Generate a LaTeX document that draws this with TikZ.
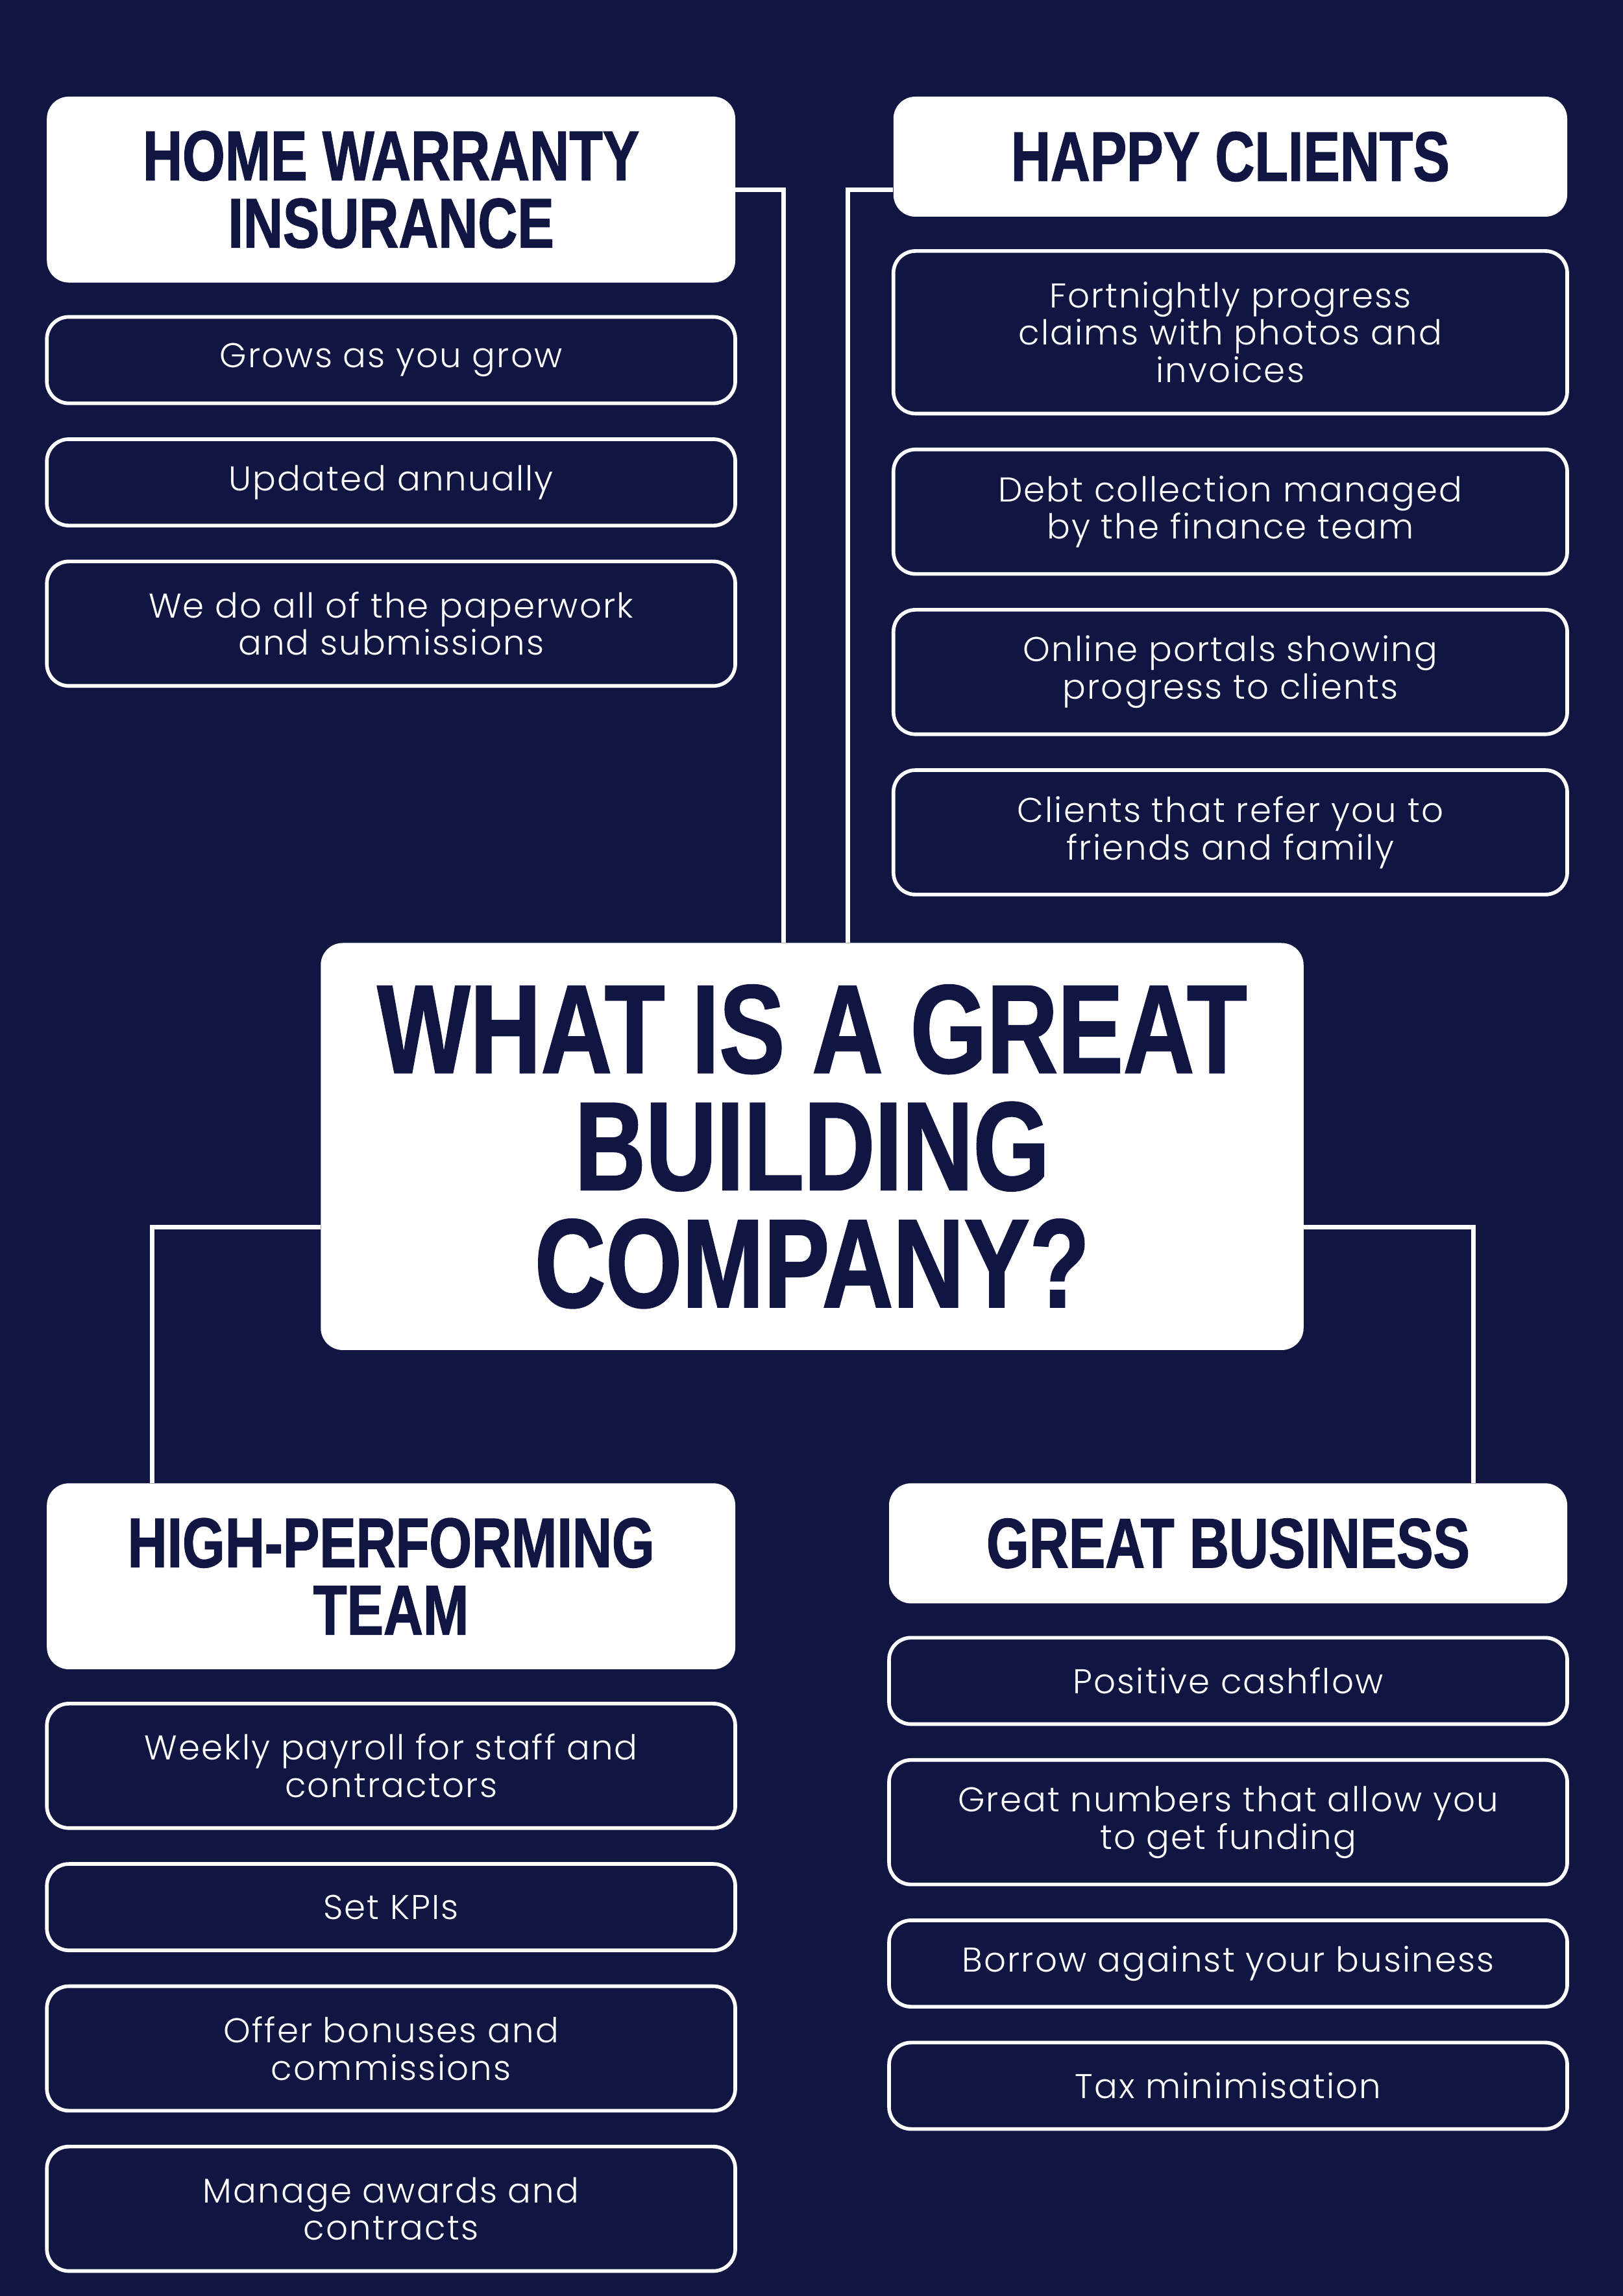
\documentclass[tikz,border=0pt]{standalone}
\usepackage{fontspec}
\usepackage{tikz}
\usetikzlibrary{positioning,calc}
\definecolor{bgnavy}{RGB}{16,22,65}
\newfontfamily\itemfont{Poppins Light}[LetterSpace=4]
\newfontfamily\headfont{Liberation Sans}[FakeStretch=0.78,FakeBold=1.2]

\begin{document}
\begin{tikzpicture}[x=1pt,y=1pt,
  hdbox/.style={fill=white,rounded corners=15pt,align=center,text=bgnavy,inner sep=0pt,
    font=\headfont\bfseries\fontsize{48}{46}\selectfont},
  itembox/.style={draw=white,line width=2.5pt,rounded corners=15pt,align=center,text=white,
    inner sep=0pt,minimum height=59pt,font=\itemfont\fontsize{23.5}{25.5}\selectfont},
  link/.style={draw=white,line width=3pt}
]
  \fill[bgnavy] (0,0) rectangle (1108,1568);
  \useasboundingbox (0,0) rectangle (1108,1568);

  % Central question
  \node[hdbox,minimum width=671pt,minimum height=278pt,font=\headfont\bfseries\fontsize{86}{80}\selectfont]
    (title) at (554.5,785) {WHAT IS A GREAT\\BUILDING\\COMPANY?};

  % Top left: home warranty
  \node[hdbox,minimum width=470pt,minimum height=127pt] (hwi) at (267,1438.5) {HOME WARRANTY\\INSURANCE};
  \node[itembox,minimum width=470pt,below=22pt of hwi] (hwi1) {Grows as you grow};
  \node[itembox,minimum width=470pt,below=22pt of hwi1] (hwi2) {Updated annually};
  \node[itembox,minimum width=470pt,minimum height=85pt,below=22pt of hwi2] (hwi3)
    {We do all of the paperwork\\and submissions};

  % Top right: happy clients
  \node[hdbox,minimum width=460pt,minimum height=82pt] (hc) at (840,1461) {HAPPY CLIENTS};
  \node[itembox,minimum width=460pt,minimum height=111pt,below=22pt of hc] (hc1)
    {Fortnightly progress\\claims with photos and\\invoices};
  \node[itembox,minimum width=460pt,minimum height=85pt,below=22pt of hc1] (hc2)
    {Debt collection managed\\by the finance team};
  \node[itembox,minimum width=460pt,minimum height=85pt,below=22pt of hc2] (hc3)
    {Online portals showing\\progress to clients};
  \node[itembox,minimum width=460pt,minimum height=85pt,below=22pt of hc3] (hc4)
    {Clients that refer you to\\friends and family};

  % Bottom left: team
  \node[hdbox,minimum width=470pt,minimum height=127pt] (hpt) at (267,491.5) {HIGH-PERFORMING\\TEAM};
  \node[itembox,minimum width=470pt,minimum height=85pt,below=22pt of hpt] (hpt1)
    {Weekly payroll for staff and\\contractors};
  \node[itembox,minimum width=470pt,below=22pt of hpt1] (hpt2) {Set KPIs};
  \node[itembox,minimum width=470pt,minimum height=85pt,below=22pt of hpt2] (hpt3)
    {Offer bonuses and\\commissions};
  \node[itembox,minimum width=470pt,minimum height=85pt,below=22pt of hpt3] (hpt4)
    {Manage awards and\\contracts};

  % Bottom right: business
  \node[hdbox,minimum width=463pt,minimum height=82pt] (gb) at (838.5,514) {GREAT BUSINESS};
  \node[itembox,minimum width=463pt,below=22pt of gb] (gb1) {Positive cashflow};
  \node[itembox,minimum width=463pt,minimum height=85pt,below=22pt of gb1] (gb2)
    {Great numbers that allow you\\to get funding};
  \node[itembox,minimum width=463pt,below=22pt of gb2] (gb3) {Borrow against your business};
  \node[itembox,minimum width=463pt,below=22pt of gb3] (gb4) {Tax minimisation};

  % Connectors
  \draw[link] (hwi.east) -| ([xshift=-19.5pt]title.north);
  \draw[link] (hc.west |- hwi.east) -| ([xshift=24.5pt]title.north);
  \draw[link] ([yshift=-55pt]title.west) -| ([xshift=-163pt]hpt.north);
  \draw[link] ([yshift=-55pt]title.east) -| ([xshift=167.5pt]gb.north);
\end{tikzpicture}
\end{document}
